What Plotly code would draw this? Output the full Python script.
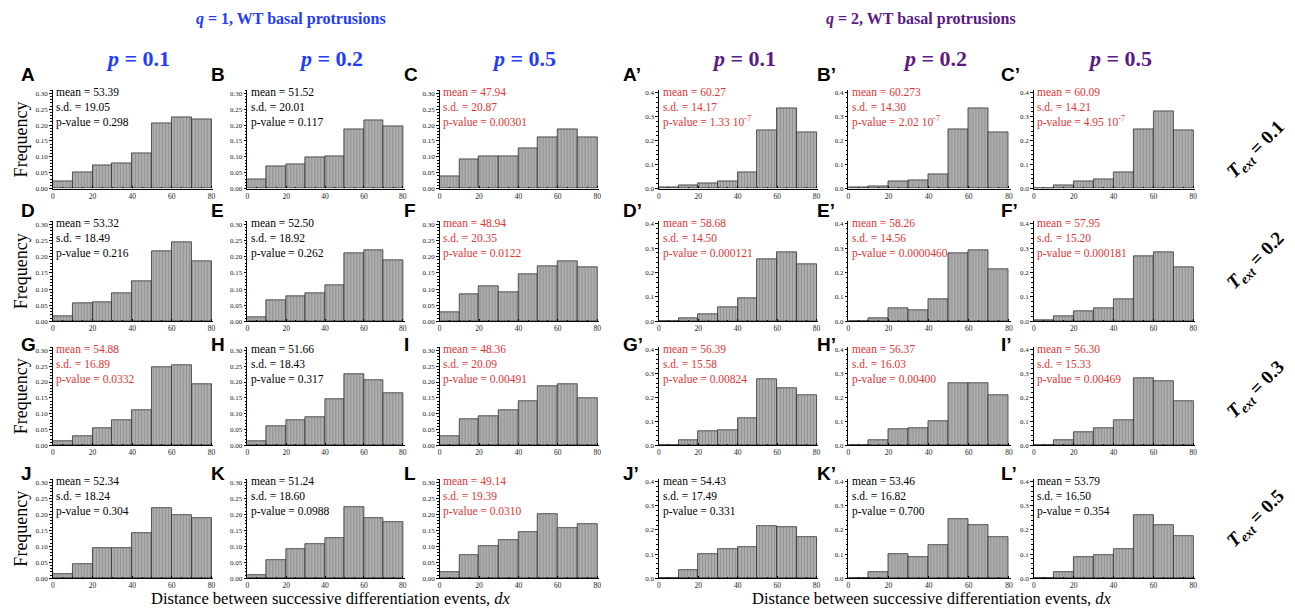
import plotly.graph_objects as go

# Page body has a default 8px margin: the figure fills the rest of the window.
PAGE_W, PAGE_H = 1295, 612
OFF = 8
W, H = PAGE_W - OFF, PAGE_H - OFF

# ---------------- data ----------------
bin_centers = [5, 15, 25, 35, 45, 55, 65, 75]
x_ticks = [0, 20, 40, 60, 80]

# q = 1 (left group), bar frequencies per panel
freq_A = [0.022, 0.051, 0.074, 0.081, 0.110, 0.205, 0.226, 0.217]
freq_B = [0.028, 0.071, 0.077, 0.099, 0.102, 0.187, 0.216, 0.196]
freq_C = [0.037, 0.092, 0.102, 0.102, 0.128, 0.163, 0.186, 0.161]
freq_D = [0.015, 0.055, 0.058, 0.087, 0.123, 0.218, 0.245, 0.185]
freq_E = [0.012, 0.065, 0.078, 0.088, 0.113, 0.210, 0.220, 0.190]
freq_F = [0.028, 0.083, 0.110, 0.090, 0.145, 0.172, 0.185, 0.168]
freq_G = [0.012, 0.030, 0.053, 0.080, 0.110, 0.248, 0.253, 0.192]
freq_H = [0.012, 0.060, 0.078, 0.090, 0.145, 0.225, 0.205, 0.165]
freq_I = [0.030, 0.083, 0.093, 0.110, 0.138, 0.188, 0.194, 0.148]
freq_J = [0.012, 0.045, 0.095, 0.095, 0.140, 0.220, 0.196, 0.188]
freq_K = [0.010, 0.058, 0.090, 0.108, 0.125, 0.222, 0.188, 0.176]
freq_L = [0.020, 0.072, 0.100, 0.120, 0.143, 0.200, 0.158, 0.168]

# q = 2 (right group)
freq_A2 = [0.003, 0.015, 0.021, 0.032, 0.068, 0.245, 0.335, 0.235]
freq_B2 = [0.003, 0.011, 0.028, 0.036, 0.059, 0.248, 0.336, 0.235]
freq_C2 = [0.001, 0.014, 0.029, 0.037, 0.068, 0.248, 0.322, 0.245]
freq_D2 = [0.001, 0.012, 0.030, 0.060, 0.095, 0.255, 0.285, 0.235]
freq_E2 = [0.001, 0.012, 0.052, 0.045, 0.090, 0.280, 0.290, 0.213]
freq_F2 = [0.003, 0.022, 0.040, 0.052, 0.090, 0.265, 0.285, 0.222]
freq_G2 = [0.001, 0.020, 0.060, 0.065, 0.115, 0.275, 0.240, 0.210]
freq_H2 = [0.001, 0.020, 0.068, 0.070, 0.100, 0.260, 0.258, 0.210]
freq_I2 = [0.001, 0.020, 0.055, 0.073, 0.105, 0.282, 0.270, 0.183]
freq_J2 = [0.002, 0.032, 0.098, 0.120, 0.130, 0.217, 0.213, 0.172]
freq_K2 = [0.001, 0.025, 0.100, 0.087, 0.138, 0.243, 0.220, 0.170]
freq_L2 = [0.001, 0.025, 0.087, 0.095, 0.120, 0.260, 0.220, 0.173]

panel_letters = ["A", "B", "C", "A’", "B’", "C’",
                 "D", "E", "F", "D’", "E’", "F’",
                 "G", "H", "I", "G’", "H’", "I’",
                 "J", "K", "L", "J’", "K’", "L’"]
panel_freqs = [freq_A, freq_B, freq_C, freq_A2, freq_B2, freq_C2,
               freq_D, freq_E, freq_F, freq_D2, freq_E2, freq_F2,
               freq_G, freq_H, freq_I, freq_G2, freq_H2, freq_I2,
               freq_J, freq_K, freq_L, freq_J2, freq_K2, freq_L2]
panel_means = ["53.39", "51.52", "47.94", "60.27", "60.273", "60.09",
               "53.32", "52.50", "48.94", "58.68", "58.26", "57.95",
               "54.88", "51.66", "48.36", "56.39", "56.37", "56.30",
               "52.34", "51.24", "49.14", "54.43", "53.46", "53.79"]
panel_sds = ["19.05", "20.01", "20.87", "14.17", "14.30", "14.21",
             "18.49", "18.92", "20.35", "14.50", "14.56", "15.20",
             "16.89", "18.43", "20.09", "15.58", "16.03", "15.33",
             "18.24", "18.60", "19.39", "17.49", "16.82", "16.50"]
panel_pvals = ["0.298", "0.117", "0.00301", "1.33 10<sup>-7</sup>", "2.02 10<sup>-7</sup>", "4.95 10<sup>-7</sup>",
               "0.216", "0.262", "0.0122", "0.000121", "0.0000460", "0.000181",
               "0.0332", "0.317", "0.00491", "0.00824", "0.00400", "0.00469",
               "0.304", "0.0988", "0.0310", "0.331", "0.700", "0.354"]
panel_significant = [False, False, True, True, True, True,
                     False, False, True, True, True, True,
                     True, False, True, True, True, True,
                     False, False, True, False, False, False]

p_labels = ["0.1", "0.2", "0.5", "0.1", "0.2", "0.5"]
t_ext_labels = ["0.1", "0.2", "0.3", "0.5"]

# ---------------- layout geometry (page pixels) ----------------
col_left = [51, 246, 439, 659, 849, 1035]
col_right = [212, 404, 599, 819, 1012, 1197]
row_bottom = [189, 323, 448, 582]
row_top = [90, 222, 349, 482]
letter_x = [17, 208, 401, 621, 816, 1000]
letter_y = [74, 211, 346, 476]
t_ext_y = [150, 262, 392, 522]

BLUE = "#1f3cff"
PURPLE = "#5c1a86"
RED = "#e03535"
SERIF = "Liberation Serif"

def fx(px):
    return (px - OFF) / W

def fy(py):
    return 1 - (py - OFF) / H

fig = go.Figure()
annotations = []
layout_axes = {}

for idx in range(24):
    r, c = divmod(idx, 6)
    n = idx + 1
    xa = "x" if n == 1 else f"x{n}"
    ya = "y" if n == 1 else f"y{n}"
    right_group = c >= 3
    fig.add_trace(go.Bar(
        x=bin_centers, y=panel_freqs[idx], width=10,
        xaxis=xa, yaxis=ya, showlegend=False,
        marker=dict(
            color="#a0a0a0",
            line=dict(color="#333333", width=0.8),
            pattern=dict(shape="|", fgcolor="#6f6f6f", bgcolor="#b4b4b4",
                         size=3, solidity=0.45),
        ),
        hoverinfo="x+y",
    ))
    xkey = "xaxis" if n == 1 else f"xaxis{n}"
    ykey = "yaxis" if n == 1 else f"yaxis{n}"
    layout_axes[xkey] = dict(
        domain=[fx(col_left[c]), fx(col_right[c])],
        anchor=ya, range=[0, 81], tickvals=x_ticks,
        showline=True, linecolor="black", linewidth=1.2,
        ticks="inside", ticklen=2.5, tickcolor="black", tickwidth=0.8,
        minor=dict(dtick=5, ticklen=1.5, ticks="inside", tickcolor="black"),
        showgrid=False, zeroline=False,
        tickfont=dict(family=SERIF, size=7.5, color="#222222"),
        fixedrange=True,
    )
    if right_group:
        yr = [0, 0.41]
        ytv = [0.0, 0.1, 0.2, 0.3, 0.4]
        ytt = ["0.0", "0.1", "0.2", "0.3", "0.4"]
        mdt = 0.02
    else:
        yr = [0, 0.31]
        ytv = [0.0, 0.05, 0.10, 0.15, 0.20, 0.25, 0.30]
        ytt = ["0.00", "0.05", "0.10", "0.15", "0.20", "0.25", "0.30"]
        mdt = 0.01
    layout_axes[ykey] = dict(
        domain=[fy(row_bottom[r]), fy(row_top[r])],
        anchor=xa, range=yr, tickvals=ytv, ticktext=ytt,
        showline=True, linecolor="black", linewidth=1.2,
        ticks="outside", ticklen=2.5, tickcolor="black", tickwidth=0.8,
        minor=dict(dtick=mdt, ticklen=1.5, ticks="outside", tickcolor="black"),
        showgrid=False, zeroline=False,
        tickfont=dict(family=SERIF, size=7, color="#222222"),
        fixedrange=True,
    )
    col = RED if panel_significant[idx] else "black"
    annotations.append(dict(
        xref=f"{xa} domain", yref=f"{ya} domain", x=0.01, y=1.06,
        xanchor="left", yanchor="top", align="left", showarrow=False,
        text=(f"mean = {panel_means[idx]}<br>s.d. = {panel_sds[idx]}"
              f"<br>p-value = {panel_pvals[idx]}"),
        font=dict(family=SERIF, size=11.5, color=col),
    ))
    annotations.append(dict(
        xref="paper", yref="paper", x=fx(letter_x[c]), y=fy(letter_y[r]),
        xanchor="left", yanchor="middle", showarrow=False,
        text=f"<b>{panel_letters[idx]}</b>",
        font=dict(family="Liberation Sans", size=19, color="black"),
    ))

# column headers
for c in range(6):
    colr = PURPLE if c >= 3 else BLUE
    annotations.append(dict(
        xref="paper", yref="paper", x=fx((col_left[c] + col_right[c]) / 2 + 5), y=fy(58),
        xanchor="center", yanchor="middle", showarrow=False,
        text=f"<b><i>p</i> = {p_labels[c]}</b>",
        font=dict(family=SERIF, size=22, color=colr),
    ))

# group titles
annotations.append(dict(
    xref="paper", yref="paper", x=fx(290), y=fy(18), xanchor="center", yanchor="middle",
    showarrow=False, text="<b><i>q</i> = 1, WT basal protrusions</b>",
    font=dict(family=SERIF, size=16, color=BLUE)))
annotations.append(dict(
    xref="paper", yref="paper", x=fx(922), y=fy(18), xanchor="center", yanchor="middle",
    showarrow=False, text="<b><i>q</i> = 2, WT basal protrusions</b>",
    font=dict(family=SERIF, size=16, color=PURPLE)))

# Frequency labels and T_ext labels
for r in range(4):
    mid = (row_top[r] + row_bottom[r]) / 2
    annotations.append(dict(
        xref="paper", yref="paper", x=fx(19), y=fy(mid), xanchor="center", yanchor="middle",
        showarrow=False, text="Frequency", textangle=-90,
        font=dict(family=SERIF, size=18, color="black")))
    annotations.append(dict(
        xref="paper", yref="paper", x=fx(1258), y=fy(t_ext_y[r]), xanchor="center", yanchor="middle",
        showarrow=False, text=f"<b><i>T</i><sub><i>ext</i></sub> = {t_ext_labels[r]}</b>",
        textangle=-45, font=dict(family=SERIF, size=19, color="black")))

# x-axis titles
for cx in (330, 933):
    annotations.append(dict(
        xref="paper", yref="paper", x=fx(cx), y=fy(602.5), xanchor="center", yanchor="middle",
        showarrow=False, text="Distance between successive differentiation events, <i>dx</i>",
        font=dict(family=SERIF, size=16.5, color="black")))

fig.update_layout(
    width=W, height=H, margin=dict(l=0, r=0, t=0, b=0),
    paper_bgcolor="white", plot_bgcolor="white",
    bargap=0, annotations=annotations, **layout_axes,
)

fig.write_html("out.html")
